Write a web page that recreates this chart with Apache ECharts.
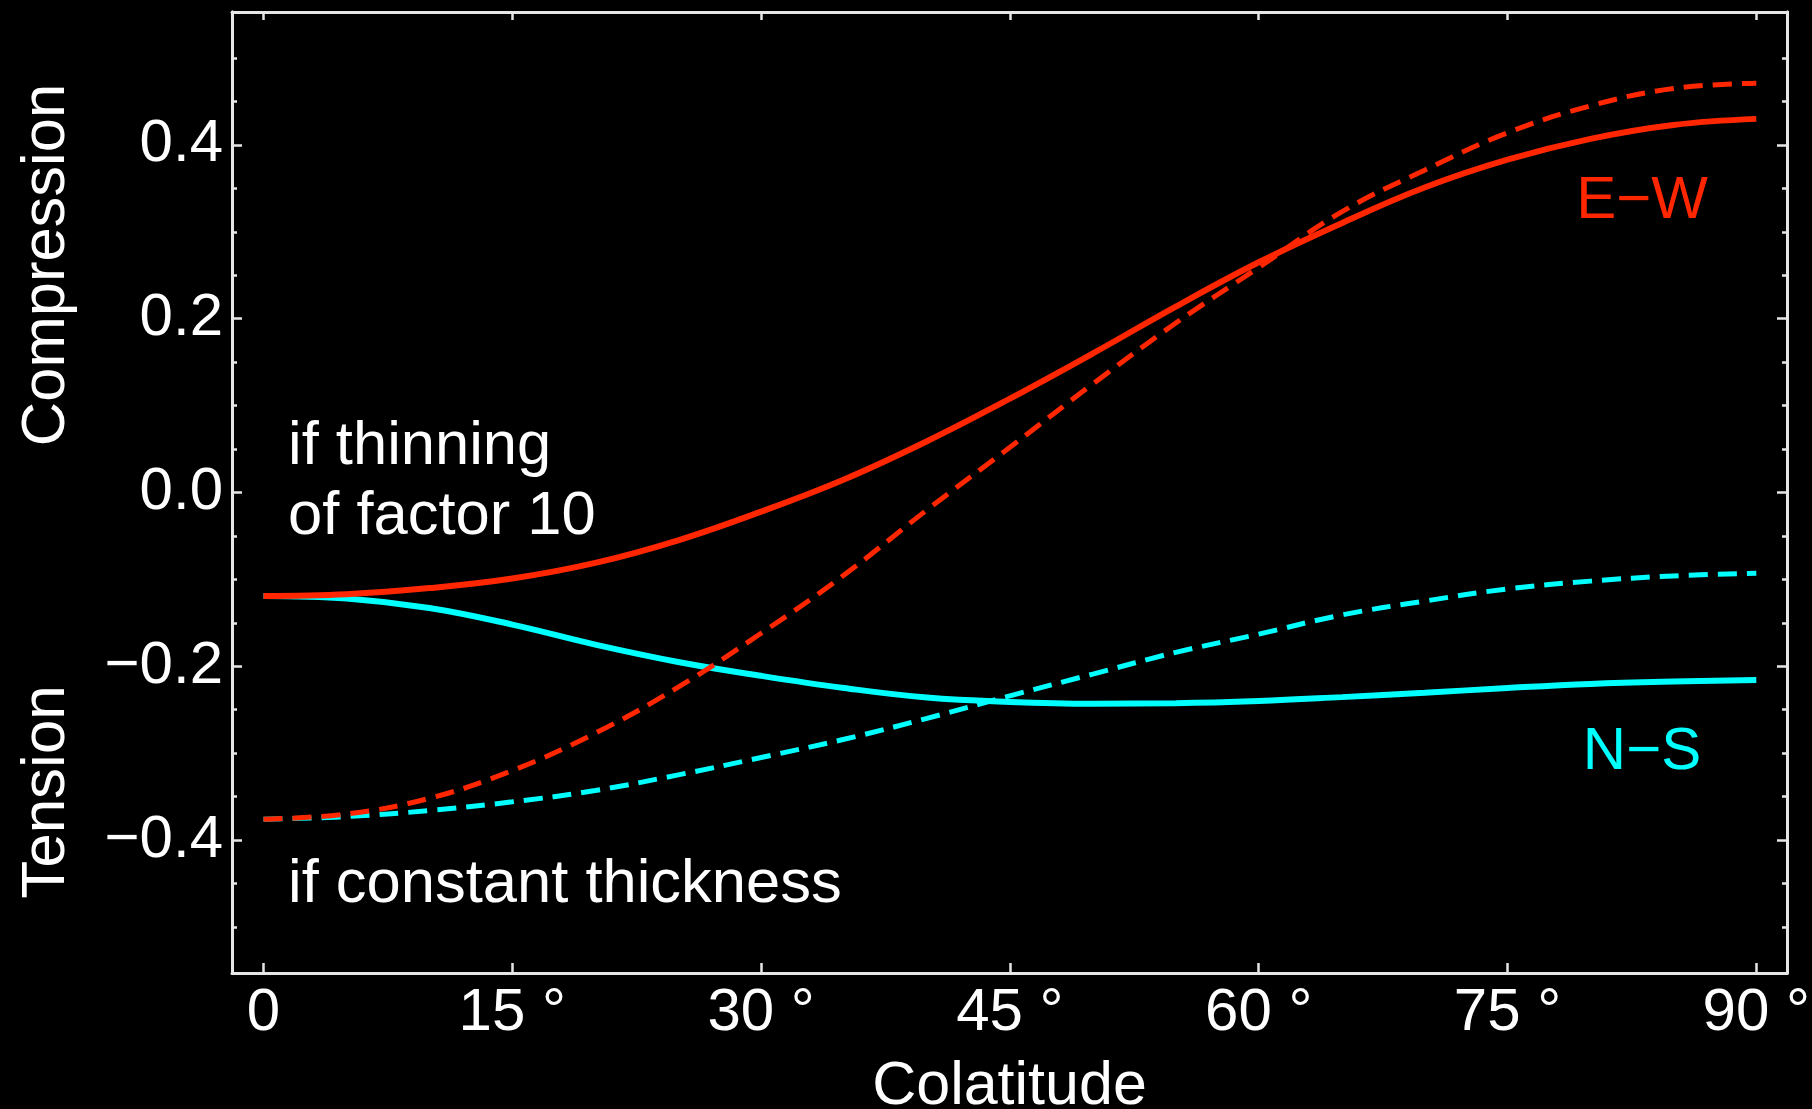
<!DOCTYPE html>
<html>
<head>
<meta charset="utf-8">
<script src="https://cdn.jsdelivr.net/npm/echarts@6/dist/echarts.min.js"></script>
<style>
  html, body { margin: 0; padding: 0; background: #000; }
  #chart { width: 1812px; height: 1109px; }
</style>
</head>
<body>
<div id="chart"></div>
<script>
// colatitude in degrees
var colatitude = [0, 5, 10, 15, 20, 25, 30, 35, 40, 45, 50, 55, 60, 65, 70, 75, 80, 85, 90];
// if thinning of factor 10 (solid)
var ewThinning = [-0.119, -0.117, -0.110, -0.099, -0.081, -0.055, -0.022, 0.015, 0.059, 0.108, 0.160, 0.214, 0.265, 0.310, 0.351, 0.383, 0.407, 0.423, 0.430];
var nsThinning = [-0.119, -0.122, -0.133, -0.152, -0.175, -0.195, -0.211, -0.225, -0.236, -0.241, -0.243, -0.2425, -0.240, -0.2355, -0.2305, -0.225, -0.2203, -0.2175, -0.2157];
// if constant thickness (dashed)
var ewConstant = [-0.376, -0.370, -0.352, -0.320, -0.277, -0.224, -0.162, -0.095, -0.020, 0.052, 0.125, 0.195, 0.259, 0.323, 0.371, 0.414, 0.445, 0.465, 0.471];
var nsConstant = [-0.376, -0.373, -0.366, -0.356, -0.343, -0.325, -0.305, -0.284, -0.260, -0.234, -0.209, -0.184, -0.163, -0.141, -0.125, -0.111, -0.102, -0.096, -0.093];

var xTicks = [0, 15, 30, 45, 60, 75, 90];
var yTicks = [-0.4, -0.2, 0, 0.2, 0.4];
var yMinorTicks = [-0.5, -0.45, -0.4, -0.35, -0.3, -0.25, -0.2, -0.15, -0.1, -0.05, 0, 0.05, 0.1, 0.15, 0.2, 0.25, 0.3, 0.35, 0.4, 0.45, 0.5];

var RED = "#ff2600";
var CYAN = "#00ffff";
var FRAME = "#e6e6e6";
var FONT = '"Liberation Sans", Arial, sans-serif';

function pairs(ys) {
    return colatitude.map(function (x, i) { return [x, ys[i]]; });
}

var chart = echarts.init(document.getElementById("chart"));

var xMin = -1.9, xMax = 91.85, yMin = -0.553, yMax = 0.553;

function xAxisBase(pos) {
    return {
        type: "value", min: xMin, max: xMax, position: pos,
        splitLine: { show: false },
        axisLine: { show: true, onZero: false, lineStyle: { color: FRAME, width: 3 } },
    };
}
function yAxisBase(pos) {
    return {
        type: "value", min: yMin, max: yMax, position: pos,
        splitLine: { show: false },
        axisLine: { show: true, onZero: false, lineStyle: { color: FRAME, width: 3 } },
    };
}

var xBottom = xAxisBase("bottom");
xBottom.axisTick = { show: true, inside: true, length: 10, customValues: xTicks, lineStyle: { color: FRAME, width: 2.5 } };
xBottom.axisLabel = {
    show: true, customValues: xTicks, margin: 10, color: "#fff", fontSize: 60, fontFamily: FONT,
    formatter: function (v) { return v === 0 ? "0" : v + " \u00b0"; },
};
xBottom.name = "Colatitude";
xBottom.nameLocation = "middle";
xBottom.nameGap = 84;
xBottom.nameTextStyle = { color: "#fff", fontSize: 61, fontFamily: FONT };

var xTop = xAxisBase("top");
xTop.axisTick = { show: true, inside: true, length: 8, customValues: xTicks, lineStyle: { color: FRAME, width: 2.5 } };
xTop.axisLabel = { show: false };

var yLeft = yAxisBase("left");
yLeft.axisTick = { show: true, inside: true, length: 10, customValues: yTicks, lineStyle: { color: FRAME, width: 2.5 } };
yLeft.axisLabel = {
    show: true, customValues: yTicks, margin: 9, color: "#fff", fontSize: 60, fontFamily: FONT,
    padding: [0, 0, 10, 0],
    formatter: function (v) {
        if (Math.abs(v) < 1e-9) return "0.0";
        return (v < 0 ? "\u2212" : "") + Math.abs(v).toFixed(1);
    },
};
var yLeftMinor = yAxisBase("left");
yLeftMinor.axisTick = { show: true, inside: true, length: 5, customValues: yMinorTicks, lineStyle: { color: FRAME, width: 2.5 } };
yLeftMinor.axisLabel = { show: false };

var yRight = yAxisBase("right");
yRight.axisTick = { show: true, inside: true, length: 10, customValues: yTicks, lineStyle: { color: FRAME, width: 2.5 } };
yRight.axisLabel = { show: false };
var yRightMinor = yAxisBase("right");
yRightMinor.axisTick = { show: true, inside: true, length: 5, customValues: yMinorTicks, lineStyle: { color: FRAME, width: 2.5 } };
yRightMinor.axisLabel = { show: false };

function line(name, ys, color, dashed) {
    return {
        name: name,
        type: "line",
        xAxisIndex: 0,
        yAxisIndex: 0,
        data: pairs(ys),
        smooth: 0.4,
        showSymbol: false,
        symbol: "none",
        silent: true,
        lineStyle: dashed
            ? { color: color, width: 5, type: [19, 10] }
            : { color: color, width: 6 },
    };
}

function label(text, x, y, color, align, size, rot) {
    return {
        type: "text",
        x: x,
        y: y,
        rotation: rot || 0,
        silent: true,
        style: {
            text: text,
            fill: color,
            font: size + "px " + FONT,
            textAlign: align, align: align,
            textVerticalAlign: "middle", verticalAlign: "middle",
        },
    };
}

var option = {
    backgroundColor: "#000",
    animation: false,
    grid: { left: 232, top: 12, width: 1555, height: 961, containLabel: false, outerBoundsMode: "none" },
    xAxis: [xBottom, xTop],
    yAxis: [yLeft, yLeftMinor, yRight, yRightMinor],
    series: [
        line("N\u2212S thinning", nsThinning, CYAN, false),
        line("E\u2212W thinning", ewThinning, RED, false),
        line("N\u2212S constant", nsConstant, CYAN, true),
        line("E\u2212W constant", ewConstant, RED, true),
    ],
    graphic: [
        label("Compression", 47, 265, "#fff", "center", 61.5, Math.PI / 2),
        label("Tension", 47, 792, "#fff", "center", 62, Math.PI / 2),
        label("if thinning", 288, 447, "#fff", "left", 61.5),
        label("of factor 10", 288, 517, "#fff", "left", 61.5),
        label("if constant thickness", 288, 885, "#fff", "left", 61.5),
        label("E\u2212W", 1642, 201, RED, "center", 60),
        label("N\u2212S", 1642, 752, CYAN, "center", 60),
    ],
};

chart.setOption(option);
</script>
</body>
</html>
